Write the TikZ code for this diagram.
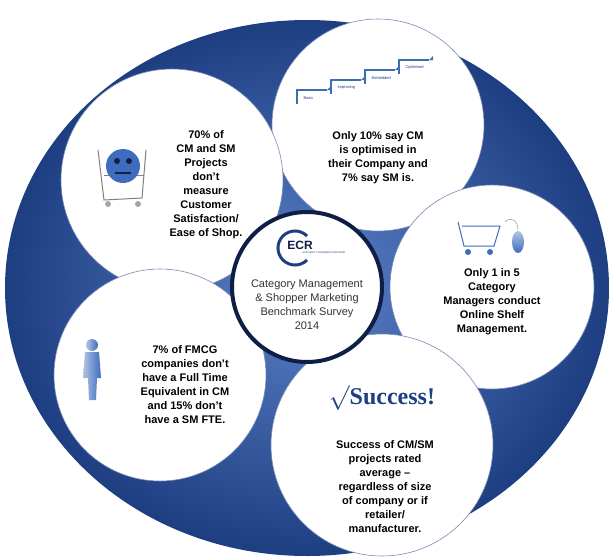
\documentclass[tikz,border=0pt]{standalone}
\usepackage{fontspec}
\setmainfont{Liberation Sans}
\newfontfamily\serifbold{Liberation Serif}
\usetikzlibrary{shadings}
\definecolor{ringblue}{RGB}{62,108,190}
\definecolor{ringdark}{RGB}{30,62,130}
\definecolor{navy}{RGB}{15,30,70}
\definecolor{stepblue}{RGB}{60,110,180}
\tikzset{
  bubble/.style={circle, fill=white, draw=ringdark!60, line width=0.6pt, minimum size=#1},
  fact/.style={align=center, font=\bfseries\fontsize{11}{14}\selectfont, text=black},
  steplabel/.style={font=\fontsize{4}{4}\selectfont, text=ringdark, anchor=south west}
}
\begin{document}
\begin{tikzpicture}[x=1pt,y=-1pt]
  \useasboundingbox (0,0) rectangle (614,560);
  % outer disc
  \shade[inner color=ringblue!85, outer color=ringdark] (307,288) ellipse [x radius=302, y radius=268];
  % bubbles
  \node[bubble=212pt] (top) at (378,125) {};
  \node[bubble=222pt] (ul) at (172,180) {};
  \node[bubble=204pt] (rt) at (492,287) {};
  \node[bubble=212pt] (ll) at (160,375) {};
  \node[bubble=222pt] (bot) at (382,445) {};
  \node[circle, fill=white, draw=navy, line width=4pt, minimum size=150pt] (hub) at (307,287) {};
  % texts
  \node[fact] at (378,158) {Only 10\% say CM\\is optimised in\\their Company and\\7\% say SM is.};
  \node[fact] at (206,185) {70\% of\\CM and SM\\Projects\\don't\\measure\\Customer\\Satisfaction/\\Ease of Shop.};
  \node[fact] at (492,302) {Only 1 in 5\\Category\\Managers conduct\\Online Shelf\\Management.};
  \node[fact] at (185,385) {7\% of FMCG\\companies don't\\have a Full Time\\Equivalent in CM\\and 15\% don't\\have a SM FTE.};
  \node[fact] at (385,487) {Success of CM/SM\\projects rated\\average --\\regardless of size\\of company or if\\retailer/\\manufacturer.};
  \node[align=center, font=\fontsize{11}{14}\selectfont, text=black!80] at (307,305)
    {Category Management\\\& Shopper Marketing\\Benchmark Survey\\2014};
  % ECR logo
  \draw[ringdark, line width=3pt] (295,248) ++(45:17) arc[start angle=45, end angle=315, radius=17];
  \node[font=\bfseries\fontsize{12}{12}\selectfont, text=navy] at (300,245) {ECR};
  \node[font=\fontsize{2.5}{3}\selectfont, text=ringdark] at (324,253) {EFFICIENT CONSUMER RESPONSE};
  % steps
  \foreach \i/\lab in {0/Basic,1/Improving,2/Embedded,3/Optimised} {
    \draw[stepblue, line width=2pt] (297+34*\i,104-10*\i) -- ++(0,-14) -- ++(30,0);
    \fill[stepblue] (327+34*\i,90-10*\i) -- ++(4,0) -- ++(0,-4) -- cycle;
    \node[steplabel] at (300+34*\i,103-10*\i) {\lab};
  }
  % cart with smiley
  \draw[gray, line width=1pt] (98,150) -- (104,200) -- (142,198) -- (146,150);
  \draw[gray] (104,175) -- (144,175);
  \fill[gray!70] (108,204) circle (3) (138,204) circle (3);
  \fill[ringblue] (123,166) circle (17);
  \fill[navy] (117,161) circle (3) (129,161) circle (3);
  \draw[navy, line width=1.5pt] (115,173) -- (131,173);
  % person figure
  \shade[left color=ringblue!40, right color=ringblue] (92,345) circle (6);
  \shade[left color=ringblue!40, right color=ringblue]
    (85,352) -- (99,352) -- (101,378) -- (97,378) -- (96,400) -- (89,400) -- (88,378) -- (83,378) -- cycle;
  % online cart
  \draw[ringblue, line width=1pt] (458,222) -- (464,246) -- (494,246) -- (500,226) -- (462,226);
  \fill[ringblue] (468,252) circle (3) (490,252) circle (3);
  \draw[gray] (505,222) .. controls (512,215) and (518,222) .. (518,230);
  \shade[top color=ringblue!40, bottom color=ringblue] (518,242) ellipse [x radius=6, y radius=11];
  % success
  \node[font=\serifbold\bfseries\fontsize{24}{24}\selectfont, text=ringdark] at (382,398) {$\surd$Success!};
\end{tikzpicture}
\end{document}
